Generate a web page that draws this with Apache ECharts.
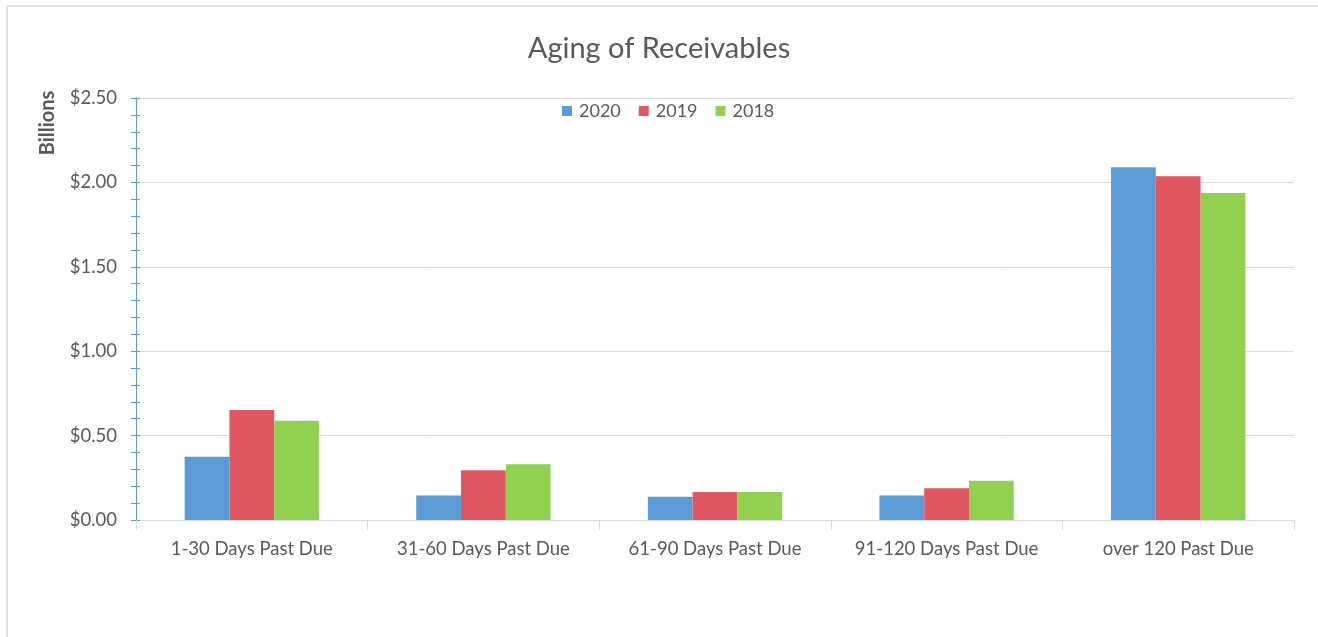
<!DOCTYPE html>
<html>
<head>
<meta charset="UTF-8">
<title>Aging of Receivables</title>
<style>
  html, body { margin: 0; padding: 0; background: #fff; overflow: hidden; }
  #frame { position: absolute; left: 6px; top: 5px; width: 1312px; height: 632px; box-sizing: border-box;
           border-top: 2px solid #e3e3e3; border-left: 2px solid #e3e3e3; }
  #chart { position: absolute; left: 0; top: 0; width: 1318px; height: 637px; }
</style>
</head>
<body>
<div id="frame"></div>
<div id="chart"></div>
<script src="https://cdn.jsdelivr.net/npm/echarts@6/dist/echarts.min.js"></script>
<script>
var categories = ['1-30 Days Past Due', '31-60 Days Past Due', '61-90 Days Past Due', '91-120 Days Past Due', 'over 120 Past Due'];
var years = ['2020', '2019', '2018'];
var values2020 = [0.375, 0.145, 0.137, 0.145, 2.09];
var values2019 = [0.652, 0.295, 0.166, 0.188, 2.036];
var values2018 = [0.588, 0.331, 0.166, 0.233, 1.937];
var colors = ['#5b9bd5', '#e05762', '#92d050'];

var font = 'Lato, "Open Sans", sans-serif';
var chart = echarts.init(document.getElementById('chart'));

function money(v) { return '$' + v.toFixed(2); }

function bar(name, data, color) {
  return {
    name: name,
    type: 'bar',
    data: data,
    barGap: '0%',
    barCategoryGap: '42%',
    itemStyle: { color: color }
  };
}

chart.setOption({
  animation: false,
  color: colors,
  textStyle: { fontFamily: font },
  title: {
    text: 'Aging of Receivables',
    left: 'center',
    top: 29,
    textStyle: { fontFamily: font, fontSize: 29, fontWeight: 'normal', color: '#595959' }
  },
  graphic: [{
    type: 'text',
    x: 48,
    y: 123,
    rotation: Math.PI / 2,
    style: {
      text: 'Billions',
      fontFamily: font,
      fontSize: 20,
      fontWeight: 'bold',
      fill: '#595959',
      align: 'center',
      verticalAlign: 'middle'
    }
  }],
  legend: {
    data: years,
    top: 97,
    left: 557,
    icon: 'rect',
    itemWidth: 10,
    itemHeight: 10,
    itemGap: 18,
    textStyle: { fontFamily: font, fontSize: 18, color: '#595959', padding: [0, 0, 0, 2] }
  },
  grid: { left: 136, right: 24, top: 98, bottom: 117 },
  xAxis: {
    type: 'category',
    data: categories,
    axisLine: { lineStyle: { color: '#d9d9d9', width: 1 } },
    axisTick: { show: true, alignWithLabel: false, length: 10, lineStyle: { color: '#d9d9d9' } },
    axisLabel: { interval: 0, margin: 20, fontFamily: font, fontSize: 18.5, color: '#595959' }
  },
  yAxis: [{
    type: 'value',
    min: 0,
    max: 2.5,
    interval: 0.5,
    axisLine: { show: true, lineStyle: { color: '#5b9bd5', width: 1 } },
    axisTick: { show: true, length: 5, lineStyle: { color: '#5b9bd5' } },
    minorTick: { show: true, splitNumber: 5, length: 5, lineStyle: { color: '#5b9bd5' } },
    axisLabel: { margin: 19, fontFamily: font, fontSize: 18.5, color: '#595959', formatter: money },
    splitLine: { show: true, lineStyle: { color: '#d9d9d9', width: 1 } }
  }, {
    type: 'value',
    position: 'left',
    min: 0,
    max: 2.5,
    interval: 0.5,
    axisLine: { show: false },
    axisTick: { show: true, inside: true, length: 4, lineStyle: { color: '#5b9bd5' } },
    minorTick: { show: true, splitNumber: 5, length: 4, lineStyle: { color: '#5b9bd5' } },
    axisLabel: { show: false },
    splitLine: { show: false }
  }],
  series: [
    bar(years[0], values2020, colors[0]),
    bar(years[1], values2019, colors[1]),
    bar(years[2], values2018, colors[2])
  ]
});
</script>
</body>
</html>
